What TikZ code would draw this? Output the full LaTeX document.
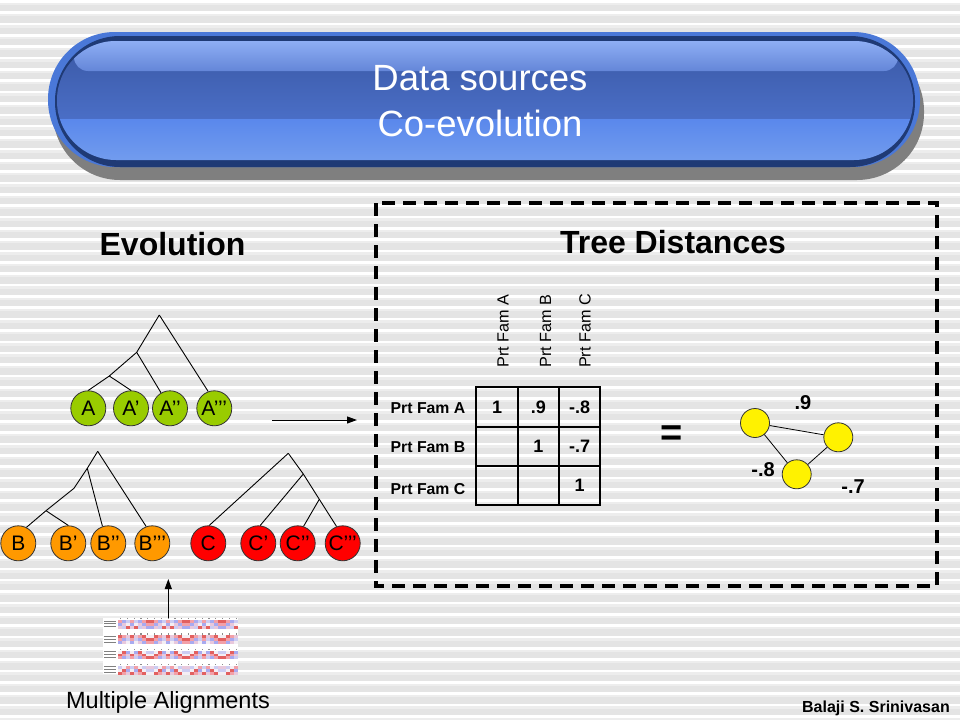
\documentclass[tikz,border=0pt]{standalone}
\usepackage{fontspec}
\setmainfont{Liberation Sans}
\usetikzlibrary{arrows.meta}
\definecolor{bgA}{HTML}{E4E4E4}
\definecolor{bgB}{HTML}{EDEDED}
\definecolor{leafgreen}{HTML}{99CC00}
\definecolor{leaforange}{HTML}{FF9900}
\definecolor{leafred}{HTML}{FF0000}
\definecolor{rimblue}{HTML}{4A78D8}
\definecolor{navy}{HTML}{1F3A75}
\definecolor{shadowgray}{HTML}{7F7F7F}
\definecolor{glossTop}{HTML}{8EAEF4}
\definecolor{glossBot}{HTML}{6486D8}
\definecolor{midTop}{HTML}{3A58A4}
\definecolor{midBot}{HTML}{4A6EC6}
\definecolor{lowTop}{HTML}{5A88EC}
\definecolor{lowBot}{HTML}{729CEE}
\definecolor{al0}{HTML}{F2A0A8}
\definecolor{al1}{HTML}{A8AAF0}
\definecolor{al2}{HTML}{E8C8DC}
\definecolor{al3}{HTML}{CCCCF2}
\definecolor{al4}{HTML}{F4EEF4}
\definecolor{al5}{HTML}{E26060}
\begin{document}
\begin{tikzpicture}[x=1pt,y=-1pt,
  leaf/.style={circle, draw=black!80, line width=0.8pt, minimum size=35pt, inner sep=0pt, font=\fontsize{21}{24}\selectfont},
  leafA/.style={leaf, fill=leafgreen},
  leafB/.style={leaf, fill=leaforange},
  leafC/.style={leaf, fill=leafred},
  tline/.style={line width=0.9pt},
  cell/.style={draw, line width=2pt, minimum width=41.3pt, minimum height=39.2pt, inner sep=0pt, font=\bfseries\fontsize{18}{20}\selectfont},
  rowlab/.style={anchor=west, inner sep=0pt, font=\bfseries\fontsize{15.8}{18}\selectfont},
  collab/.style={rotate=90, font=\fontsize{16.2}{19}\selectfont},
  ynode/.style={circle, draw=black!80, line width=0.8pt, fill=yellow, minimum size=29pt, inner sep=0pt},
  wlab/.style={font=\bfseries\fontsize{20}{22}\selectfont},
  heading/.style={anchor=base, font=\bfseries\fontsize{32}{36}\selectfont},
  titletext/.style={anchor=base, text=white, font=\fontsize{36.5}{42}\selectfont},
  arr/.style={-{Triangle[length=10pt,width=7pt]}, line width=1pt},
  pill/.style={rounded corners=#1}
]
\useasboundingbox (0,0) rectangle (960,720);
% background stripes
\fill[bgA] (0,0) rectangle (960,720);
\foreach \i in {0,...,63} {
  \fill[white] (0,{\i*11.35}) rectangle (960,{\i*11.35+2.6});
  \fill[bgB] (0,{\i*11.35+2.6}) rectangle (960,{\i*11.35+5});
}
% title banner
\fill[shadowgray, pill=67] (53,44) rectangle (924,180);
\fill[rimblue, pill=67] (48,32) rectangle (920,167);
\fill[navy, pill=65] (55,36) rectangle (915,167);
\begin{scope}
  \clip[pill=59] (57,41) rectangle (913,160);
  \shade[top color=midTop, bottom color=midBot] (40,40) rectangle (930,119);
  \shade[top color=lowTop, bottom color=lowBot] (40,119) rectangle (930,161);
  \shade[top color=glossTop, bottom color=glossBot, pill=14] (74,41) rectangle (898,71);
\end{scope}
\node[titletext] (t1) at (480,90) {Data sources};
\node[titletext] (t2) at (480,136) {Co-evolution};
% headings
\node[heading] (evo) at (172.5,255) {Evolution};
\node[heading] (td) at (673,253) {Tree Distances};
% dashed box
\draw[line width=3.5pt, dash pattern=on 13pt off 8pt] (376,203) rectangle (937,586);
% leaves
\node[leafA] (a1) at (88.3,408.3) {\makebox[0pt]{A}};
\node[leafA] (a2) at (131,408.3) {\makebox[0pt]{A’}};
\node[leafA] (a3) at (170,408.3) {\makebox[0pt]{A’’}};
\node[leafA] (a4) at (214.3,408.3) {\makebox[0pt]{A’’’}};
\node[leafB] (b1) at (18.3,543.3) {\makebox[0pt]{B}};
\node[leafB] (b2) at (68.3,543.3) {\makebox[0pt]{B’}};
\node[leafB] (b3) at (108.3,543.3) {\makebox[0pt]{B’’}};
\node[leafB] (b4) at (152.3,543.3) {\makebox[0pt]{B’’’}};
\node[leafC] (c1) at (208.3,543.3) {\makebox[0pt]{C}};
\node[leafC] (c2) at (258.3,543.3) {\makebox[0pt]{C’}};
\node[leafC] (c3) at (297.7,543.3) {\makebox[0pt]{C’’}};
\node[leafC] (c4) at (342.7,543.3) {\makebox[0pt]{C’’’}};
% tree A
\coordinate (ar) at (159.3,315);
\coordinate (ai1) at (136.7,352.3);
\coordinate (ai2) at (109.3,376);
\draw[tline] (ar) -- (ai1) -- (ai2) -- (a1.north);
\draw[tline] (ai2) -- (a2.north);
\draw[tline] (ai1) -- (a3.120);
\draw[tline] (ar) -- (a4.110);
% tree B
\coordinate (br) at (97.7,451.3);
\coordinate (bi1) at (87.3,468.3);
\coordinate (bi2) at (74,488.3);
\coordinate (bi3) at (46,510.7);
\draw[tline] (br) -- (bi1) -- (bi2) -- (bi3) -- (b1.63);
\draw[tline] (bi3) -- (b2.north);
\draw[tline] (bi1) -- (b3.109);
\draw[tline] (br) -- (b4.110);
% tree C
\coordinate (cr) at (288.3,453.3);
\coordinate (ci1) at (303.3,474);
\coordinate (ci2) at (319.3,499.3);
\draw[tline] (cr) -- (c1.87);
\draw[tline] (cr) -- (ci1) -- (ci2) -- (c4.110);
\draw[tline] (ci1) -- (c2.84);
\draw[tline] (ci2) -- (c3.71);
% arrow to matrix
\coordinate (arrS) at (272,420);
\coordinate (arrE) at (357,420);
\draw[arr] (arrS) -- (arrE);
% matrix
\node[collab] (h1) at (503,331) {Prt Fam A};
\node[collab] (h2) at (545.5,331) {Prt Fam B};
\node[collab] (h3) at (585,331) {Prt Fam C};
\node[rowlab] (r1) at (390.5,408) {Prt Fam A};
\node[rowlab] (r2) at (390.5,447) {Prt Fam B};
\node[rowlab] (r3) at (390.5,489) {Prt Fam C};
\node[cell] (m11) at (497,407) {1};
\node[cell] (m12) at (538.3,407) {.9};
\node[cell] (m13) at (579.6,407) {-.8};
\node[cell] (m21) at (497,446.2) {};
\node[cell] (m22) at (538.3,446.2) {1};
\node[cell] (m23) at (579.6,446.2) {-.7};
\node[cell] (m31) at (497,485.4) {};
\node[cell] (m32) at (538.3,485.4) {};
\node[cell] (m33) at (579.6,485.4) {1};
% equals
\node[font=\bfseries\fontsize{38}{40}\selectfont] (eq) at (672,436) {=};
% triangle graph
\node[ynode] (g1) at (755,423) {};
\node[ynode] (g2) at (838.3,437.3) {};
\node[ynode] (g3) at (796.7,474.3) {};
\draw[line width=0.8pt] (g1) -- (g2);
\draw[line width=0.8pt] (g2) -- (g3);
\draw[line width=0.8pt] (g3) -- (g1);
\node[wlab] (l1) at (803,403) {.9};
\node[wlab] (l2) at (763,470) {-.8};
\node[wlab] (l3) at (853,487) {-.7};
% alignment picture
\node[fill=white, minimum width=134.4pt, minimum height=56.3pt, inner sep=0pt] (alg) at (170.5,645.8) {};
\foreach \b in {0,...,3} {
  \pgfmathsetmacro\yb{619+\b*15.3}
  \foreach \c in {0,...,17} {
    \fill[black!45] ({120+\c*6.8},{\yb-1}) rectangle ({121.2+\c*6.8},{\yb+0.2});
  }
  \foreach \r in {0,...,2} {
    \fill[black!50] (104,{\yb+1.5+\r*2.9}) rectangle (116,{\yb+2.5+\r*2.9});
    \foreach \c in {0,...,29} {
      \pgfmathtruncatemacro\k{mod(\c*7+\r*13+\b*5+int(\c*\c/3),6)}
      \fill[al\k] ({118+\c*4},{\yb+1+\r*2.9}) rectangle ({122+\c*4},{\yb+4+\r*2.9});
    }
  }
}
\coordinate (algtop) at (168.3,617.5);
\coordinate (algtip) at (168.3,579);
\draw[arr] (algtop) -- (algtip);
\node[anchor=base, font=\fontsize{23.5}{26}\selectfont] (ma) at (168,708) {Multiple Alignments};
\node[anchor=base east, inner sep=0pt, font=\bfseries\fontsize{16}{18}\selectfont] (auth) at (950,712) {Balaji S. Srinivasan};
\end{tikzpicture}
\end{document}
